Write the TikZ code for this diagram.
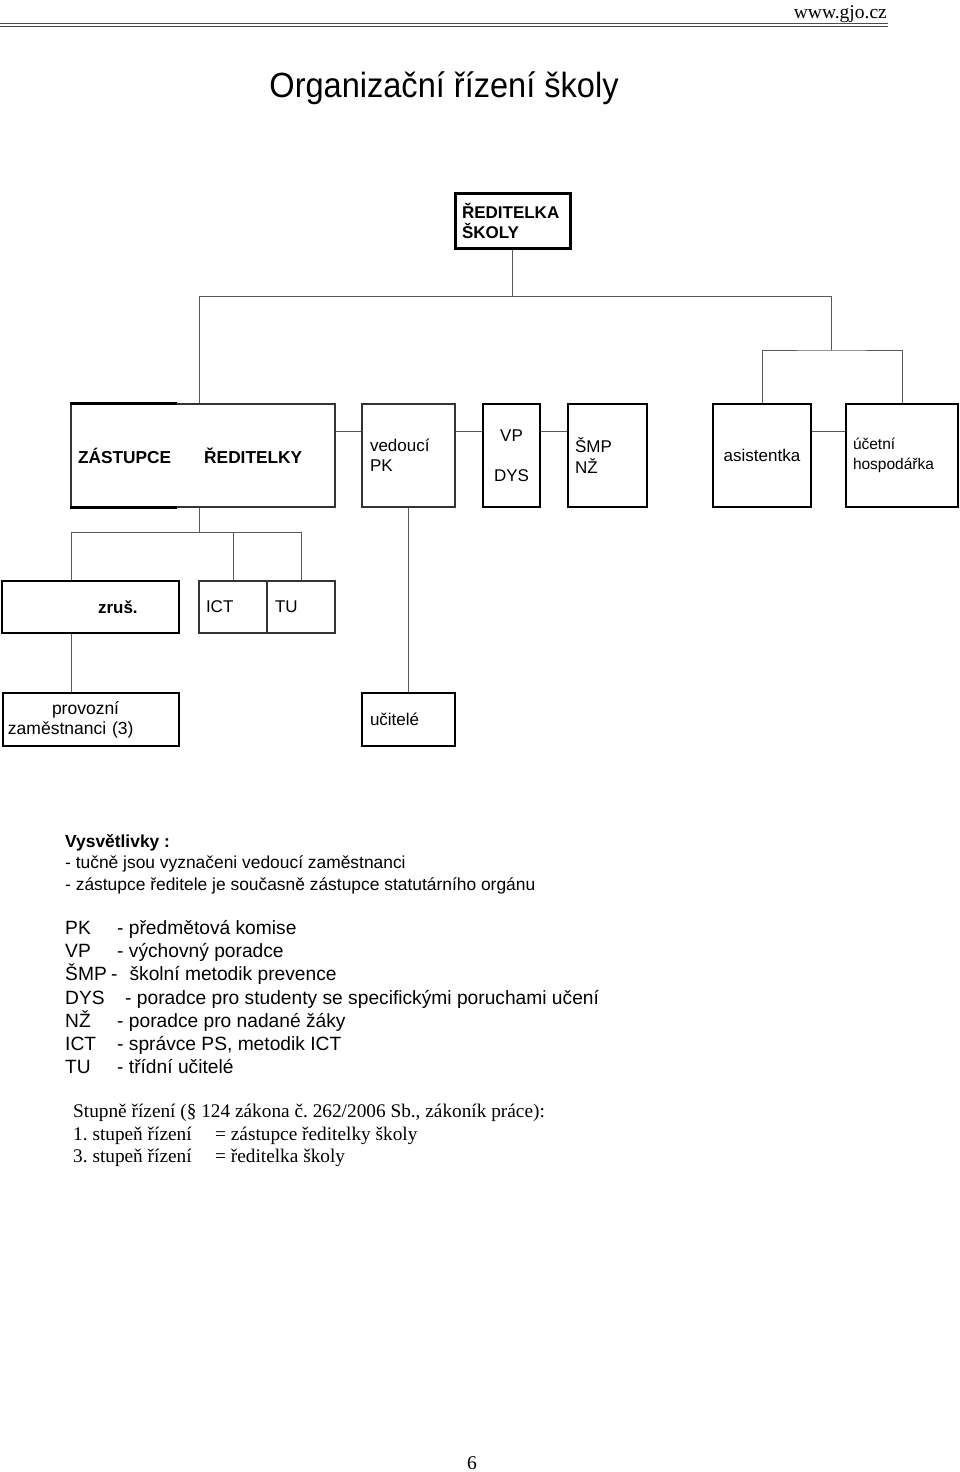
\documentclass[tikz,border=0pt]{standalone}
\usepackage{fontspec}
\setmainfont{Liberation Serif}
\setsansfont{Liberation Sans}
\frenchspacing
\tikzstyle{unit}=[draw=black!80, line width=1.2pt, inner sep=0pt, minimum height=103pt, font=\sffamily\fontsize{17}{20}\selectfont]
\tikzstyle{lead}=[unit, draw=black, line width=2.4pt]
\tikzstyle{link}=[draw=black!65, line width=1pt]
\tikzstyle{note}=[anchor=base west, inner sep=0pt, font=\sffamily\fontsize{17.4}{21}\selectfont]
\tikzstyle{abbr}=[anchor=base west, inner sep=0pt, font=\sffamily\fontsize{19.2}{23}\selectfont]
\tikzstyle{law}=[anchor=base west, inner sep=0pt, font=\rmfamily\fontsize{19.3}{22}\selectfont]
\newcommand{\ab}[2]{\makebox[#1][l]{#2}}

\begin{document}
\begin{tikzpicture}[x=1pt, y=-1pt]
\useasboundingbox (0,0) rectangle (960,1472);
% header and title
\node[anchor=base east, inner sep=0pt, font=\rmfamily\fontsize{19.5}{22}\selectfont] (web) at (887,19) {www.gjo.cz};
\draw[line width=1pt, black!70] (0,24) -- (888,24) (0,27) -- (888,27);
\node[anchor=base, inner sep=0pt, font=\sffamily\fontsize{35}{40}\selectfont] (title) at (444,97) {\scalebox{0.93}[1]{Organizační řízení školy}};

% boxes
\node[lead, line width=3pt, minimum width=115pt, minimum height=55pt, text width=101pt, align=left, font=\sffamily\bfseries\fontsize{17}{20}\selectfont] (head) at (512.5,220.5) {ŘEDITELKA\\ŠKOLY};
\node[unit, minimum width=264pt, text width=250pt, align=left, font=\sffamily\bfseries\fontsize{17.3}{20}\selectfont] (zast) at (203,455.5) {ZÁSTUPCE\hspace{33pt}ŘEDITELKY};
\draw[line width=2.4pt] (zast.north west) -- ++(107,0) (zast.south west) -- ++(107,0);
\node[unit, minimum width=93pt, text width=77pt, align=left] (ved) at (408.5,455.5) {vedoucí\\PK};
\node[lead, minimum width=57pt, align=center] (vp) at (511.5,455.5) {VP\\[20pt]DYS};
\node[lead, minimum width=79pt, text width=65pt, align=left, font=\sffamily\fontsize{17}{21}\selectfont] (smp) at (607.5,455.5) {ŠMP\\NŽ};
\node[lead, minimum width=98pt] (asis) at (762,455.5) {asistentka};
\node[lead, minimum width=112pt, text width=98pt, align=left, font=\sffamily\fontsize{15.5}{20}\selectfont] (uce) at (902,455.5) {účetní\\hospodářka};

\node[lead, minimum width=177pt, minimum height=52pt, text width=161pt, align=left, font=\sffamily\bfseries\fontsize{17}{20}\selectfont] (zrus) at (90.5,607) {\hspace*{88pt}zruš.};
\node[unit, minimum width=68pt, minimum height=52pt, text width=54pt, align=left] (ict) at (233,607) {ICT};
\node[unit, minimum width=68pt, minimum height=52pt, text width=52pt, align=left] (tu) at (301,607) {TU};

\node[lead, minimum width=176pt, minimum height=53pt, text width=166pt, align=left, font=\sffamily\fontsize{17.5}{20}\selectfont] (prov) at (91,719.5) {\hspace*{44pt}provozní\\zaměstnanci (3)};
\node[lead, minimum width=93pt, minimum height=53pt, text width=77pt, align=left] (uc) at (408.5,719.5) {učitelé};

% connectors
\coordinate (jm) at (512.5,296);
\coordinate (jl) at (199,296);
\coordinate (jr) at (831,296);
\coordinate (js) at (831,350);
\coordinate (kl) at (71,532);
\coordinate (kr) at (301,532);
\draw[link] (head) -- (jm);
\draw[link] (jl) -- (jr);
\draw[link] (jl) -- (jl |- zast.north);
\draw[link] (jr) -- (js);
\draw[link] (asis.north) |- (js) -| (uce.north);
\draw[link] ([yshift=24.5pt]zast.east) -- ([yshift=24.5pt]ved.west);
\draw[link] ([yshift=24.5pt]ved.east) -- ([yshift=24.5pt]vp.west);
\draw[link] ([yshift=24.5pt]vp.east) -- ([yshift=24.5pt]smp.west);
\draw[link] ([yshift=24.5pt]asis.east) -- ([yshift=24.5pt]uce.west);
\draw[link] (zast.south -| jl) -- (jl |- kl);
\draw[link] (kl) -- (kr);
\draw[link] (kl) -- (kl |- zrus.north);
\draw[link] (ict.north) -- (ict.north |- kl);
\draw[link] (tu.north) -- (kr);
\draw[link] (zrus.south -| kl) -- (prov.north -| kl);
\draw[link] (ved) -- (uc);

% legend
\node[note] (vys) at (65,847) {\textbf{Vysvětlivky :}};
\node[note] (n1) at (65,868) {- tučně jsou vyznačeni vedoucí zaměstnanci};
\node[note] (n2) at (65,890) {- zástupce ředitele je současně zástupce statutárního orgánu};
\node[abbr] (pk) at (65,934) {\ab{52pt}{PK}- předmětová komise};
\node[abbr] (vpx) at (65,957) {\ab{52pt}{VP}- výchovný poradce};
\node[abbr] (smpx) at (65,980) {\ab{46pt}{ŠMP}-\hspace{12pt}školní metodik prevence};
\node[abbr] (dys) at (65,1004) {\ab{60pt}{DYS}- poradce pro studenty se specifickými poruchami učení};
\node[abbr] (nz) at (65,1027) {\ab{52pt}{NŽ}- poradce pro nadané žáky};
\node[abbr] (ictx) at (65,1050) {\ab{52pt}{ICT}- správce PS, metodik ICT};
\node[abbr] (tux) at (65,1073) {\ab{52pt}{TU}- třídní učitelé};

\node[law] (st) at (73,1117) {Stupně řízení (§ 124 zákona č. 262/2006 Sb., zákoník práce):};
\node[law] (s1) at (73,1140) {\ab{142pt}{1. stupeň řízení}= zástupce ředitelky školy};
\node[law] (s3) at (73,1162) {\ab{142pt}{3. stupeň řízení}= ředitelka školy};

\node[anchor=base, inner sep=0pt, font=\rmfamily\fontsize{19.5}{22}\selectfont] (page) at (472,1469) {6};
\end{tikzpicture}
\end{document}
